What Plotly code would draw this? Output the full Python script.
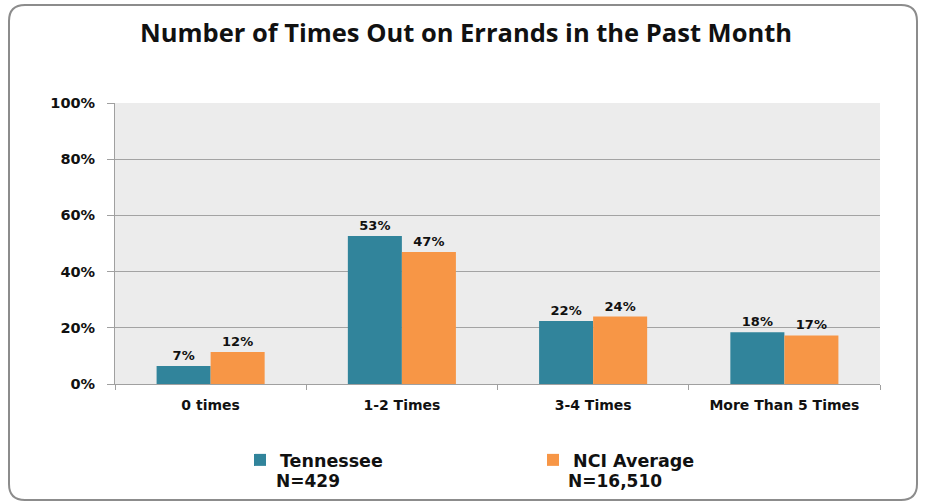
import plotly.graph_objects as go

categories = ["0 times", "1-2 Times", "3-4 Times", "More Than 5 Times"]
tennessee = [6.4, 52.7, 22.4, 18.4]
tennessee_labels = ["7%", "53%", "22%", "18%"]
nci = [11.4, 47.0, 24.0, 17.3]
nci_labels = ["12%", "47%", "24%", "17%"]
series_names = ["Tennessee", "NCI Average"]
series_n = ["N=429", "N=16,510"]
y_ticks = [0, 20, 40, 60, 80, 100]
y_ticklabels = ["0%", "20%", "40%", "60%", "80%", "100%"]

TEAL = "#31849b"
ORANGE = "#f79646"
FONT = "DejaVu Sans"

fig = go.Figure()
fig.add_trace(go.Bar(
    x=categories, y=tennessee, name=series_names[0],
    marker=dict(color=TEAL, line=dict(width=0)),
    text=tennessee_labels, textposition="outside", cliponaxis=False,
    textfont=dict(family=FONT, size=13, color="#111", weight="bold"),
))
fig.add_trace(go.Bar(
    x=categories, y=nci, name=series_names[1],
    marker=dict(color=ORANGE, line=dict(width=0)),
    text=nci_labels, textposition="outside", cliponaxis=False,
    textfont=dict(family=FONT, size=13, color="#111", weight="bold"),
))

# paper geometry helpers (plot area 115..880 x, 103..384 y)
L, R, T, B = 115, 46, 103, 120
W, H = 926, 504
pw, ph = W - L - R, H - T - B
def px(x):
    return (x - L) / pw
def py(y):
    return (H - B - y) / ph

# rounded border
x0, x1, y0, y1 = px(9), px(917), py(500), py(5)
rx, ry = 16 / pw, 16 / ph
path = (f"M {x0+rx},{y1} L {x1-rx},{y1} Q {x1},{y1} {x1},{y1-ry} "
        f"L {x1},{y0+ry} Q {x1},{y0} {x1-rx},{y0} L {x0+rx},{y0} "
        f"Q {x0},{y0} {x0},{y0+ry} L {x0},{y1-ry} Q {x0},{y1} {x0+rx},{y1} Z")

fig.update_layout(
    width=W, height=H,
    margin=dict(l=L, r=R, t=T, b=B),
    paper_bgcolor="white",
    plot_bgcolor="#ececec",
    barmode="group",
    bargap=0.435,
    bargroupgap=0,
    title=dict(
        text="Number of Times Out on Errands in the Past Month",
        x=px(466), xanchor="center", xref="paper",
        y=1 - 33 / H, yanchor="middle",
        font=dict(family="Open Sans", size=25.5, color="#111", weight="bold"),
    ),
    showlegend=True,
    legend=dict(
        orientation="h",
        x=px(240), xanchor="left",
        y=py(460), yanchor="middle",
        entrywidth=248, entrywidthmode="pixels",
        font=dict(family=FONT, size=17.5, color="#111", weight="bold"),
        bgcolor="rgba(0,0,0,0)",
        traceorder="normal",
    ),
    shapes=[dict(type="path", path=path, xref="paper", yref="paper",
                 line=dict(color="#8c8c8c", width=2), fillcolor="rgba(0,0,0,0)",
                 layer="below")],
    annotations=[
        dict(text=series_n[0], x=px(308), y=py(481), xref="paper", yref="paper",
             showarrow=False, xanchor="center", yanchor="middle",
             font=dict(family=FONT, size=17, color="#111", weight="bold")),
        dict(text=series_n[1], x=px(615), y=py(481), xref="paper", yref="paper",
             showarrow=False, xanchor="center", yanchor="middle",
             font=dict(family=FONT, size=17, color="#111", weight="bold")),
    ],
)

fig.update_xaxes(
    showgrid=False,
    showline=True, linecolor="#a0a0a0", linewidth=1,
    ticks="outside", tickson="boundaries", ticklen=5, tickcolor="#a0a0a0",
    tickfont=dict(family=FONT, size=14, color="#111", weight="bold"),
    ticklabelstandoff=8,
)
fig.update_yaxes(
    range=[0, 100],
    tickvals=y_ticks, ticktext=y_ticklabels,
    showgrid=True, gridcolor="#a3a3a3", gridwidth=1,
    showline=True, linecolor="#a0a0a0", linewidth=1,
    ticks="outside", ticklen=7, tickcolor="#a0a0a0",
    tickfont=dict(family=FONT, size=14.5, color="#111", weight="bold"),
    ticklabelstandoff=9,
    zeroline=False,
)

fig.write_html("out.html",
               config={"displayModeBar": False},
               post_script="document.body.style.margin='0';document.body.style.overflow='hidden';")
